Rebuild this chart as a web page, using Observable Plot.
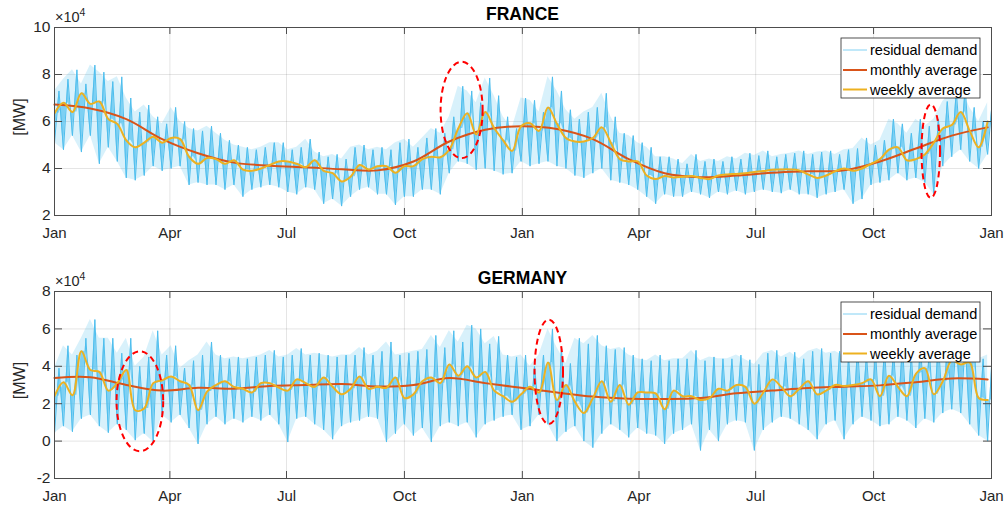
<!DOCTYPE html>
<html>
<head>
<meta charset="utf-8">
<script src="https://cdn.jsdelivr.net/npm/d3@7"></script>
<script src="https://cdn.jsdelivr.net/npm/@observablehq/plot@0.6"></script>
<style>
  body { margin: 0; background: #fff; }
  #chart { width: 1005px; }
  svg { display: block; }
</style>
</head>
<body>
<div id="chart"></div>
<script>
// ---------- data (values in units of 10^4 MW, one value per week from 1 Jan) ----------
const tickDates = ["2015-01-01","2015-04-01","2015-07-01","2015-10-01","2016-01-01","2016-04-01","2016-07-01","2016-10-01","2017-01-01"];
const tickLabels = ["Jan","Apr","Jul","Oct","Jan","Apr","Jul","Oct","Jan"];
const frYTicks = [2, 4, 6, 8, 10];
const deYTicks = [-2, 0, 2, 4, 6, 8];
const legendLabels = ["residual demand", "monthly average", "weekly average"];
const panelTitles = ["FRANCE", "GERMANY"];

const frWeekly = [6.35,6.8,6.4,7.2,6.75,6.85,6.1,5.9,5.2,4.9, 5.1,5.35,5.1,5.3,5.25,4.5,4.2,4.45,4.4,4.2,
  4.35,3.95,3.9,4.0,4.15,4.3,4.3,4.2,4.05,4.35, 3.9,3.8,3.45,3.65,4.15,3.96,4.1,4.1,3.82,4.1,
  4.1,4.4,4.5,4.48,4.8,5.7,6.35,5.45,6.4,5.72, 5.2,4.75,5.8,5.93,5.6,6.6,5.9,5.3,5.15,5.15,
  5.3,5.75,5.1,4.4,4.3,4.3,3.7,3.55,3.68,3.62, 3.65,3.68,3.6,3.55,3.7,3.75,3.77,3.8,3.85,3.89,
  3.95,3.96,3.96,3.92,3.75,3.6,3.7,3.88,4.0,3.9, 4.0,4.2,4.4,4.8,4.9,4.35,4.4,4.6,5.1,5.7,
  5.85,6.4,5.6,4.9,6.0];
const frHigh = [7.3,7.8,8.2,7.6,8.4,8.1,7.7,7.9,7.0,6.4, 6.7,6.2,5.9,6.6,6.0,5.7,5.6,5.8,5.5,5.2,
  5.0,4.9,4.8,4.9,5.1,5.1,4.8,4.9,5.25,4.7, 4.5,4.6,4.4,4.9,5.0,4.8,4.9,4.8,5.1,5.25,
  4.9,5.3,5.7,5.5,6.2,7.5,7.3,6.8,7.85,7.1, 6.2,5.7,7.0,6.9,6.4,7.9,7.3,6.5,6.1,6.4,
  6.6,7.2,6.2,5.5,5.4,5.1,4.9,4.5,4.5,4.4, 4.2,4.6,4.3,4.4,4.3,4.5,4.4,4.65,4.55,4.75,
  4.5,4.6,4.65,4.75,4.6,4.7,4.75,4.6,4.8,4.85, 5.3,5.0,5.2,6.1,5.9,5.5,6.1,5.8,6.1,6.85,
  7.3,7.5,6.6,6.0,6.8];
const frLow = [5.1,4.8,5.4,4.7,5.4,4.2,4.9,4.3,3.6,3.5, 3.7,4.1,3.9,4.0,4.1,3.3,3.4,3.3,3.3,3.1,
  3.3,2.8,3.1,3.2,3.3,3.2,3.0,2.9,3.2,3.1, 2.5,2.7,2.4,2.8,3.1,3.2,2.9,2.9,2.45,2.8,
  2.8,3.1,3.1,2.9,3.8,4.3,4.2,3.95,4.0,3.9, 3.75,3.8,4.3,4.1,4.2,4.3,4.1,4.0,3.7,3.6,
  3.8,4.0,3.5,3.4,3.3,3.1,2.8,2.5,2.9,2.8, 2.8,3.0,2.9,2.75,3.0,2.9,3.05,2.9,3.0,3.1,
  3.0,2.95,3.1,2.9,2.9,2.75,2.9,3.0,3.1,2.5, 2.7,3.3,3.4,3.5,3.8,3.5,3.6,3.4,2.9,4.1,
  4.5,4.8,4.3,4.0,4.6];
// one value every four weeks
const frMonthly = [6.72,6.55,6.1,5.25,4.65,4.25,4.12,4.05,3.97,3.92,4.3,5.15,5.65,5.8,5.68,5.25,4.4,3.8,
  3.63,3.7,3.82,3.88,3.92,4.3,4.85,5.4,5.75];

const deWeekly = [2.4,3.15,2.45,4.8,3.8,3.7,2.7,3.1,3.8,1.65, 1.75,3.1,3.25,3.45,3.2,3.0,1.65,2.65,3.0,3.2,
  2.9,2.8,2.6,3.1,3.1,2.86,2.7,3.3,3.1,2.9, 3.4,2.9,2.5,2.8,3.45,2.8,2.9,2.85,3.4,2.3,
  2.5,3.2,3.4,3.1,4.1,3.5,4.0,3.4,3.7,2.7, 2.4,2.1,2.5,2.9,2.6,4.2,2.2,3.0,2.1,1.5,
  2.3,3.2,2.1,3.0,1.95,2.6,2.6,2.55,1.7,2.7, 2.4,2.4,2.2,2.3,2.8,2.7,3.0,2.9,2.0,2.6,
  3.3,2.9,2.4,2.8,3.2,2.5,2.7,3.0,2.95,3.0, 3.1,3.3,2.4,3.5,2.9,2.4,3.6,3.9,2.5,3.2,
  4.3,4.1,4.2,2.3,2.2];
const deHigh = [3.9,5.1,4.6,5.5,6.5,5.5,5.5,4.7,5.5,4.0, 4.5,5.9,4.6,5.1,3.9,4.3,4.6,5.3,4.6,4.4,
  4.5,4.4,4.5,4.6,4.85,4.5,4.6,4.95,4.6,4.7, 4.6,4.5,4.6,4.6,5.0,4.6,4.8,5.3,4.6,4.7,
  4.8,4.9,5.65,5.0,5.9,5.3,6.2,6.0,5.2,5.6, 4.6,4.5,4.6,4.0,4.6,6.0,5.0,4.15,5.5,5.2,
  5.65,5.1,4.9,5.0,4.6,4.4,4.3,4.6,4.3,4.4, 4.4,4.85,4.3,4.5,4.4,4.4,4.6,4.35,4.1,4.7,
  4.85,4.5,4.75,4.4,4.8,4.95,4.7,4.8,4.55,5.0, 4.6,4.8,5.0,4.9,5.1,4.6,5.3,4.9,5.4,5.1,
  5.5,5.2,5.4,4.4,4.6];
const deLow = [0.4,0.8,0.5,1.2,1.4,0.8,0.45,0.9,0.6,0.05, 0.4,-0.05,1.4,1.0,1.4,0.7,-0.15,0.9,1.3,0.9,
  1.2,1.0,1.3,1.1,1.4,0.9,-0.05,1.2,1.3,0.9, 0.6,0.1,0.8,1.0,1.1,1.3,1.2,-0.05,0.4,0.9,
  0.3,0.7,-0.05,0.8,1.0,0.8,1.0,0.2,0.9,1.1, 1.3,1.4,0.6,0.8,1.4,0.9,0.0,0.5,0.8,0.0,
  -0.35,0.4,0.9,0.6,0.2,0.7,0.4,0.3,-0.15,0.4, 0.6,0.9,-0.5,0.6,0.0,0.9,1.1,1.0,-0.5,0.6,
  1.0,1.3,1.2,0.9,0.6,0.1,0.9,1.1,0.1,0.9, 1.3,1.1,0.8,0.9,1.3,1.1,0.7,1.2,1.0,1.5,
  1.7,1.5,0.9,0.3,0.0];
const deMonthly = [3.38,3.42,3.0,2.7,2.85,2.8,2.95,3.0,3.05,2.92,3.0,3.37,3.1,2.85,2.6,2.38,2.27,2.25,
  2.3,2.56,2.7,2.84,2.91,2.98,3.15,3.35,3.3];

// dashed highlight ellipses: panel, centre date, centre value, half-width (days), half-height (10^4 MW)
const ellPanel = [0, 0, 1, 1];
const ellDate = ["2015-11-15", "2016-11-15", "2015-03-09", "2016-01-22"];
const ellValue = [6.47, 4.72, 2.1, 3.68];
const ellHalfDays = [16.4, 7.2, 18.2, 11.1];
const ellHalfValue = [2.05, 1.99, 2.67, 2.79];

// ---------- drawing ----------
const FONT = "'Liberation Sans', Arial, Helvetica, sans-serif";
const INK = "#262626";
const C_RES = "#4DBEEE", C_MON = "#D95319", C_WEEK = "#EDB120";
const start = Date.UTC(2015, 0, 1);
const atDay = d => new Date(start + d * 864e5);
const ticks = tickDates.map(s => new Date(s + "T00:00:00Z"));
const W = 1005, ML = 54, MR = 14;

function panel(idx, weekly, high, low, monthly, yDomain, yTicks, mt, mb) {
  const H = 253;
  const frameH = H - mt - mb, frameW = W - ML - MR;
  const weeks = weekly.map((v, i) => ({date: atDay(7 * i), weekly: v, high: high[i], low: low[i]}));
  const resid = weeks.flatMap((w, i) => [
    {date: atDay(7 * i), v: low[i], base: weekly[i]},
    {date: atDay(7 * i + 3.5), v: high[i], base: weekly[i]}
  ]);
  const months = monthly.map((v, i) => ({date: atDay(28 * i), v}));
  const svg = Plot.plot({
    width: W, height: H,
    marginLeft: ML, marginRight: MR, marginTop: mt, marginBottom: mb,
    style: {fontFamily: FONT, fontSize: "15px", color: INK, background: "#fff", overflow: "visible"},
    x: {type: "utc", domain: [ticks[0], ticks[ticks.length - 1]], axis: null},
    y: {domain: yDomain, axis: null},
    marks: [
      Plot.gridX(ticks, {stroke: INK, strokeOpacity: 0.12}),
      Plot.gridY(yTicks, {stroke: INK, strokeOpacity: 0.12}),
      Plot.areaY(weeks, {x: "date", y1: "low", y2: "high", fill: C_RES, fillOpacity: 0.22, clip: true}),
      Plot.areaY(resid, {x: "date", y1: "base", y2: "v", fill: C_RES, fillOpacity: 0.65, clip: true}),
      Plot.line(resid, {x: "date", y: "v", stroke: C_RES, strokeWidth: 1, clip: true}),
      Plot.line(months, {x: "date", y: "v", stroke: C_MON, strokeWidth: 2, curve: "catmull-rom"}),
      Plot.line(weeks, {x: "date", y: "weekly", stroke: C_WEEK, strokeWidth: 2, curve: "catmull-rom", clip: true}),
      Plot.frame({stroke: "#4d4d4d", strokeWidth: 1}),
      Plot.tickX(ticks, {x: d => d, insetTop: frameH - 7, stroke: "#4d4d4d"}),
      Plot.tickX(ticks, {x: d => d, insetBottom: frameH - 7, stroke: "#4d4d4d"}),
      Plot.tickY(yTicks, {y: d => d, insetRight: frameW - 8, stroke: "#4d4d4d"}),
      Plot.tickY(yTicks, {y: d => d, insetLeft: frameW - 8, stroke: "#4d4d4d"}),
      Plot.axisX(ticks, {tickSize: 0, tickPadding: 12, fontSize: 15, fill: INK,
        tickFormat: d => tickLabels[ticks.findIndex(t => +t === +d)]}),
      Plot.axisY(yTicks, {tickSize: 0, tickPadding: 4, fontSize: 15.5, fill: INK, tickFormat: d => String(d)})
    ]
  });

  const s = d3.select(svg);
  const xs = plotScale(svg, "x"), ys = plotScale(svg, "y");
  const g = s.append("g").attr("font-family", FONT).attr("text-anchor", "start");

  // title
  g.append("text").attr("x", (ML + W - MR) / 2).attr("y", mt - 7)
    .attr("text-anchor", "middle").attr("font-weight", "bold").attr("font-size", 17.5)
    .attr("fill", "#000").text(panelTitles[idx]);
  // exponent
  const ex = g.append("text").attr("x", ML + 1).attr("y", mt - 5).attr("text-anchor", "start")
    .attr("font-size", 14.5).attr("fill", INK);
  ex.append("tspan").text("\u00d710");
  ex.append("tspan").attr("dy", -6).attr("font-size", 10.5).text("4");
  // y label
  g.append("text").attr("transform", `translate(19,${mt + frameH / 2 - 4}) rotate(-90)`)
    .attr("text-anchor", "middle").attr("dy", "0.35em").attr("font-size", 16).attr("fill", INK).text("[MW]");

  // ellipses
  ellPanel.forEach((p, i) => {
    if (p !== idx) return;
    const d0 = new Date(ellDate[i] + "T00:00:00Z");
    const cx = xs(d0), cy = ys(ellValue[i]);
    const rx = xs(new Date(+d0 + ellHalfDays[i] * 864e5)) - cx;
    const ry = ys(ellValue[i] - ellHalfValue[i]) - cy;
    g.append("ellipse").attr("cx", cx).attr("cy", cy).attr("rx", rx).attr("ry", ry)
      .attr("fill", "none").attr("stroke", "#ff0000").attr("stroke-width", 2)
      .attr("stroke-dasharray", "6,4");
  });

  // legend
  const lx = 841, ly = mt + 11;
  g.append("rect").attr("x", lx).attr("y", ly).attr("width", 139).attr("height", 60)
    .attr("fill", "#fff").attr("stroke", INK).attr("stroke-width", 0.8);
  const styles = [[C_RES, 1, 0.7], [C_MON, 2, 1], [C_WEEK, 2, 1]];
  const offs = [12, 32, 51.5];
  legendLabels.forEach((lab, i) => {
    const y = ly + offs[i];
    g.append("line").attr("x1", lx + 2).attr("x2", lx + 26).attr("y1", y).attr("y2", y)
      .attr("stroke", styles[i][0]).attr("stroke-width", styles[i][1]).attr("stroke-opacity", styles[i][2]);
    g.append("text").attr("x", lx + 29).attr("y", y).attr("dy", "0.35em").attr("text-anchor", "start")
      .attr("font-size", 14.5).attr("fill", "#000").text(lab);
  });
  return svg;
}

function plotScale(svg, name) {
  const sc = svg.scale(name);
  return sc.type === "utc" ? d3.scaleUtc(sc.domain, sc.range) : d3.scaleLinear(sc.domain, sc.range);
}

const root = document.getElementById("chart");
root.appendChild(panel(0, frWeekly, frHigh, frLow, frMonthly, [2, 10], frYTicks, 27, 38));
root.appendChild(panel(1, deWeekly, deHigh, deLow, deMonthly, [-2, 8], deYTicks, 38, 28));
</script>
</body>
</html>
